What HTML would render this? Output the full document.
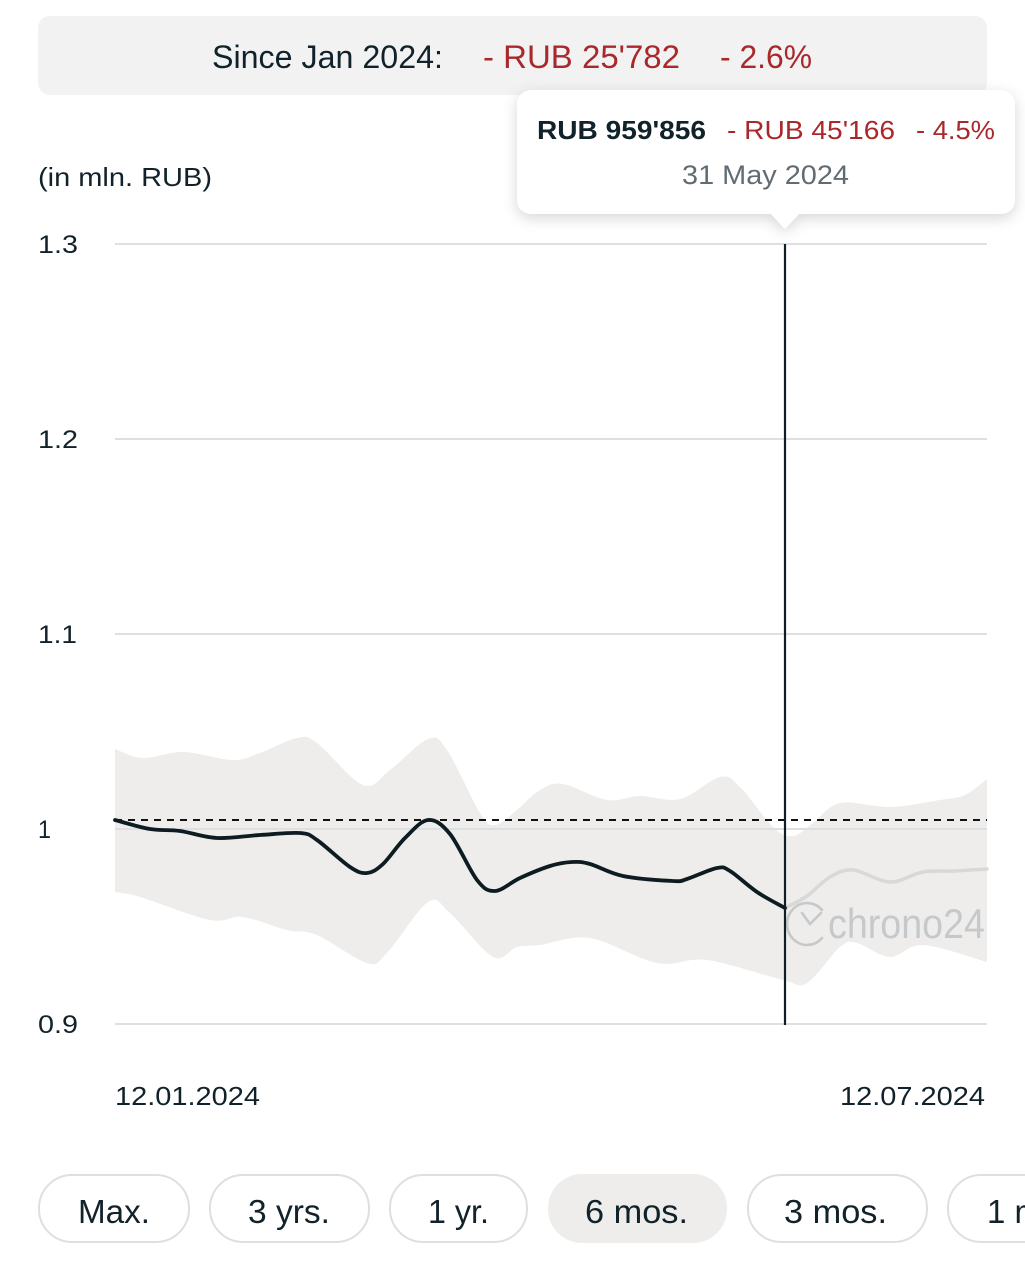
<!DOCTYPE html>
<html>
<head>
<meta charset="utf-8">
<style>
  html,body{margin:0;padding:0;background:#fff;}
  body{width:1025px;height:1280px;overflow:hidden;}
  svg{display:block;}
  text{font-family:"Liberation Sans",sans-serif;}
</style>
</head>
<body>
<svg width="1025" height="1280" viewBox="0 0 1025 1280" xmlns="http://www.w3.org/2000/svg">
  <defs>
    <filter id="sh" x="-10%" y="-20%" width="120%" height="150%">
      <feDropShadow dx="0" dy="4" stdDeviation="7" flood-color="#000" flood-opacity="0.16"/>
    </filter>
  </defs>

  <!-- header -->
  <rect x="38" y="16" width="949" height="79" rx="12" fill="#f2f2f2"/>
  <text x="212" y="68" font-size="32" fill="#11222a" textLength="231" lengthAdjust="spacingAndGlyphs">Since Jan 2024:</text>
  <text x="483" y="68" font-size="32" fill="#a8282b" textLength="197" lengthAdjust="spacingAndGlyphs">- RUB 25'782</text>
  <text x="720" y="68" font-size="32" fill="#a8282b" textLength="92" lengthAdjust="spacingAndGlyphs">- 2.6%</text>

  <!-- axis unit -->
  <text x="38" y="186" font-size="26" fill="#11222a" textLength="174" lengthAdjust="spacingAndGlyphs">(in mln. RUB)</text>

  <!-- band -->
  <path id="band" fill="#eeedeb" d="M115,749 L143,758 L183,752 L233,760 L260,753 L297,738 L317,743 L363,785 L390,770 L428,739 L447,750 L480,813 L495,825 L517,810 L540,790 L563,784 L607,800 L640,796 L680,799 L720,777 L740,787 L773,827 L793,836 L813,823 L840,803 L890,807 L940,800 L965,795 L987,779 L987,962 L923,945 L890,957 L857,943 L840,947 L807,983 L783,980 L707,960 L657,963 L590,938 L540,945 L517,947 L493,957 L450,913 L428,902 L387,953 L367,963 L317,935 L287,930 L243,917 L210,920 L140,897 L115,892 Z"/>

  <!-- gridlines -->
  <g stroke="#dde0e2" stroke-width="2">
    <line x1="115" y1="244" x2="987" y2="244"/>
    <line x1="115" y1="439" x2="987" y2="439"/>
    <line x1="115" y1="634" x2="987" y2="634"/>
    <line x1="115" y1="829" x2="987" y2="829"/>
    <line x1="115" y1="1024" x2="987" y2="1024"/>
  </g>

  <!-- y labels -->
  <g font-size="25" fill="#11222a">
    <text x="38" y="253" textLength="40" lengthAdjust="spacingAndGlyphs">1.3</text>
    <text x="38" y="448" textLength="40" lengthAdjust="spacingAndGlyphs">1.2</text>
    <text x="38" y="643" textLength="39" lengthAdjust="spacingAndGlyphs">1.1</text>
    <text x="38" y="838" textLength="13" lengthAdjust="spacingAndGlyphs">1</text>
    <text x="38" y="1033" textLength="40" lengthAdjust="spacingAndGlyphs">0.9</text>
  </g>

  <!-- watermark -->
  <g stroke="#c6c9cb" stroke-width="2.6" fill="none" stroke-linecap="round">
    <path d="M822,910 A20,21 0 1,0 822,938"/>
    <path d="M802,913 L810,924 L821,913"/>
  </g>
  <text x="828" y="938" font-size="42" fill="#c6c9cb" textLength="157" lengthAdjust="spacingAndGlyphs">chrono24</text>

  <!-- gray continuation -->
  <path id="gline" fill="none" stroke="#d8d8d8" stroke-width="3.5" stroke-linejoin="round" stroke-linecap="round" d="M785,908 L807,896 L830,877 L853,870 L890,882 L923,872 L955,871 L987,869"/>

  <!-- dashed reference -->
  <line x1="115" y1="820" x2="987" y2="820" stroke="#111" stroke-width="2" stroke-dasharray="7,6"/>

  <!-- main line -->
  <path id="mline" fill="none" stroke="#0c1c20" stroke-width="3.8" stroke-linejoin="round" stroke-linecap="round" d="M115,820 L150,829 L180,831 L217,838 L260,835 L300,833 L317,840 L350,867 L367,873 L383,864 L405,838 L428,820 L450,834 L477,880 L495,891 L520,878 L550,866 L572,862 L590,864 L623,876 L673,881 L687,879 L717,868 L730,871 L757,892 L785,908"/>

  <!-- vertical cursor -->
  <line x1="785" y1="244" x2="785" y2="1025" stroke="#0f1f24" stroke-width="2.2"/>

  <!-- tooltip -->
  <g filter="url(#sh)">
    <rect x="517" y="90" width="498" height="124" rx="14" fill="#fff"/>
    <polygon points="770,213 800,213 785,229" fill="#fff"/>
  </g>
  <text x="537" y="139" font-size="26" font-weight="bold" fill="#11222a" textLength="169" lengthAdjust="spacingAndGlyphs">RUB 959'856</text>
  <text x="727" y="139" font-size="26" fill="#a8282b" textLength="168" lengthAdjust="spacingAndGlyphs">- RUB 45'166</text>
  <text x="916" y="139" font-size="26" fill="#a8282b" textLength="79" lengthAdjust="spacingAndGlyphs">- 4.5%</text>
  <text x="682" y="184" font-size="27" fill="#606c71" textLength="167" lengthAdjust="spacingAndGlyphs">31 May 2024</text>

  <!-- x labels -->
  <text x="115" y="1105" font-size="26" fill="#11222a" textLength="145" lengthAdjust="spacingAndGlyphs">12.01.2024</text>
  <text x="840" y="1105" font-size="26" fill="#11222a" textLength="145" lengthAdjust="spacingAndGlyphs">12.07.2024</text>

  <!-- buttons -->
  <g stroke="#dde0e0" stroke-width="2" fill="#fff">
    <rect x="39" y="1175" width="150" height="67" rx="33"/>
    <rect x="210" y="1175" width="159" height="67" rx="33"/>
    <rect x="390" y="1175" width="137" height="67" rx="33"/>
    <rect x="748" y="1175" width="179" height="67" rx="33"/>
    <rect x="948" y="1175" width="180" height="67" rx="33"/>
  </g>
  <rect x="548" y="1174" width="179" height="69" rx="34" fill="#eeedeb"/>
  <g font-size="33" fill="#11222a">
    <text x="78" y="1223" textLength="72" lengthAdjust="spacingAndGlyphs">Max.</text>
    <text x="248" y="1223" textLength="82" lengthAdjust="spacingAndGlyphs">3 yrs.</text>
    <text x="428" y="1223" textLength="61" lengthAdjust="spacingAndGlyphs">1 yr.</text>
    <text x="585" y="1223" textLength="103" lengthAdjust="spacingAndGlyphs">6 mos.</text>
    <text x="784" y="1223" textLength="103" lengthAdjust="spacingAndGlyphs">3 mos.</text>
    <text x="987" y="1223">1 mo.</text>
  </g>
</svg>
<script>
(function(){
  function parse(d){
    var nums=d.replace(/[MLZ]/g,' ').trim().split(/[\s,]+/).map(Number);
    var pts=[];for(var i=0;i<nums.length;i+=2)pts.push([nums[i],nums[i+1]]);return pts;
  }
  function smooth(pts,t){
    t=t||0.5;var d='M'+pts[0][0]+','+pts[0][1];
    for(var i=0;i<pts.length-1;i++){
      var p0=pts[i-1]||pts[i],p1=pts[i],p2=pts[i+1],p3=pts[i+2]||p2;
      var c1x=p1[0]+(p2[0]-p0[0])/6*t*2,c1y=p1[1]+(p2[1]-p0[1])/6*t*2;
      var c2x=p2[0]-(p3[0]-p1[0])/6*t*2,c2y=p2[1]-(p3[1]-p1[1])/6*t*2;
      d+=' C'+c1x.toFixed(1)+','+c1y.toFixed(1)+' '+c2x.toFixed(1)+','+c2y.toFixed(1)+' '+p2[0]+','+p2[1];
    }
    return d;
  }
  ['mline','gline'].forEach(function(id){
    var el=document.getElementById(id);el.setAttribute('d',smooth(parse(el.getAttribute('d'))));
  });
  var b=document.getElementById('band');
  var pts=parse(b.getAttribute('d'));
  var split=0;for(var i=0;i<pts.length;i++){if(pts[i][0]===987){split=i;break;}}
  var up=pts.slice(0,split+1),lo=pts.slice(split+1);
  var d1=smooth(up);var d2=smooth(lo).replace(/^M/,' L');
  b.setAttribute('d',d1+d2+' Z');
})();
</script>
</body>
</html>
